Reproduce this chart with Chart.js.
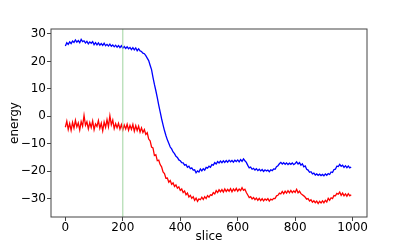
<!DOCTYPE html>
<html>
<head>
<meta charset="utf-8">
<script src="https://cdn.jsdelivr.net/npm/chart.js@4"></script>
<style>
  html, body { margin: 0; padding: 0; background: #fff; }
  #wrap { width: 407px; height: 244px; }
</style>
</head>
<body>
<div id="wrap"><canvas id="chart" width="407" height="244"></canvas></div>
<script>
// one value every 5 slices
const STEP = 5;
const blueEnergy = [
  25.6, 26.8, 26.2, 27.1, 26.5, 27.4, 26.9, 27.8, 27.0, 27.6,
  26.8, 28.0, 27.2, 27.5, 26.7, 27.3, 26.4, 27.1, 26.6, 27.2,
  26.1, 26.8, 26.0, 26.7, 25.9, 26.5, 25.8, 26.6, 25.7, 26.2,
  25.6, 26.3, 25.5, 26.0, 25.3, 25.9, 25.2, 25.8, 25.0, 25.7,
  24.8, 25.4, 24.7, 25.3, 24.6, 25.1, 24.3, 25.0, 24.2, 24.9,
  23.9, 24.6, 23.8, 23.6, 23.0, 22.8, 22.1, 21.2, 20.3, 18.6,
  17.0, 14.2, 11.6, 9.3, 6.8, 4.1, 1.6, -0.9, -3.1, -5.2,
  -7.0, -8.6, -9.8, -11.2, -11.9, -13.0, -13.6, -14.6, -15.0, -15.9,
  -16.2, -16.9, -17.0, -17.8, -17.6, -18.6, -18.2, -19.1, -18.8, -19.6,
  -19.5, -20.6, -19.9, -20.3, -19.2, -19.9, -19.1, -19.6, -18.6, -18.9,
  -18.2, -18.6, -17.6, -17.8, -16.9, -17.4, -16.5, -17.0, -16.3, -16.9,
  -16.2, -16.8, -16.1, -16.7, -16.0, -16.6, -16.1, -16.7, -16.0, -16.5,
  -15.9, -16.6, -15.8, -16.4, -15.5, -16.2, -16.8, -17.9, -18.8, -18.5,
  -19.3, -19.0, -19.6, -19.1, -19.8, -19.3, -19.9, -19.4, -20.1, -19.5,
  -19.9, -19.6, -20.2, -19.5, -19.8, -19.2, -19.3, -18.4, -18.0, -17.3,
  -16.8, -17.4, -16.9, -17.5, -17.0, -17.6, -17.1, -17.5, -17.0, -17.6,
  -17.2, -16.6, -17.4, -16.9, -17.8, -17.3, -18.4, -18.1, -19.3, -19.6,
  -20.4, -20.2, -21.0, -20.7, -21.4, -21.0, -21.5, -21.1, -21.6, -21.2,
  -21.7, -21.0, -21.5, -20.9, -21.2, -20.3, -20.5, -19.4, -19.3, -18.2,
  -18.3, -17.5, -18.2, -17.8, -18.6, -18.0, -18.7, -18.1, -18.8, -18.5
];
const redEnergy = [
  -4.0, -1.8, -4.8, -2.6, -5.1, -2.2, -4.3, -1.5, -3.9, -2.4,
  -5.0, -1.9, -3.6, 0.3, -3.3, -2.0, -4.6, -2.3, -4.1, -1.7,
  -4.9, -2.8, -3.7, -1.6, -4.4, -2.5, -5.3, -2.1, -4.0, -1.2,
  -3.8, 0.2, -3.1, -1.4, -4.5, -2.7, -4.2, -2.6, -4.7, -3.0,
  -5.0, -3.2, -4.6, -2.9, -5.1, -3.3, -4.8, -3.0, -5.4, -3.4,
  -5.2, -3.6, -5.8, -4.2, -5.9, -4.8, -6.6, -6.0, -8.3, -8.9,
  -11.2, -11.5, -14.3, -14.0, -16.2, -16.0, -17.6, -18.4, -20.3, -20.9,
  -22.6, -22.5, -24.0, -23.4, -24.8, -24.3, -25.6, -25.0, -26.2, -25.7,
  -27.0, -26.5, -27.8, -27.2, -28.6, -28.0, -29.4, -28.8, -29.9, -29.3,
  -30.6, -29.8, -31.0, -30.1, -30.4, -29.5, -30.3, -29.3, -30.0, -28.9,
  -29.5, -28.6, -28.8, -27.8, -28.3, -27.1, -27.8, -26.8, -27.5, -26.7,
  -27.6, -26.5, -27.4, -26.6, -27.3, -26.4, -27.5, -26.5, -27.2, -26.3,
  -27.3, -26.5, -27.1, -26.0, -27.0, -26.6, -27.8, -28.7, -29.6, -29.3,
  -30.1, -29.6, -30.4, -29.8, -30.6, -29.9, -30.7, -30.0, -30.8, -30.1,
  -30.6, -30.0, -30.9, -30.2, -30.5, -29.9, -30.0, -29.0, -28.8, -28.0,
  -28.3, -27.4, -28.2, -27.3, -28.0, -27.1, -27.9, -27.0, -27.8, -27.2,
  -27.7, -26.6, -27.9, -27.3, -28.2, -28.6, -29.0, -29.5, -30.2, -30.0,
  -30.9, -30.4, -31.3, -30.8, -31.5, -30.9, -31.8, -31.0, -31.6, -30.8,
  -31.5, -30.6, -31.2, -29.9, -30.6, -29.7, -30.0, -28.9, -29.0, -28.1,
  -28.4, -27.6, -28.8, -28.0, -29.0, -28.3, -29.1, -28.2, -29.0, -28.6
];
const markSlice = 200;
const xTicks = [0, 200, 400, 600, 800, 1000];
const yTicks = [-30, -20, -10, 0, 10, 20, 30];
const X_MIN = -50, X_MAX = 1050;
const Y_MIN = -36.7, Y_MAX = 31.8;

function toPoints(values) {
  return values.map((v, i) => ({ x: i * STEP, y: v }));
}
function fmt(v) {
  return v < 0 ? '\u2212' + Math.abs(v) : String(v);
}

// matplotlib style box round the plot area
const frame = {
  id: 'frame',
  afterDatasetsDraw(chart) {
    const { ctx, chartArea: a } = chart;
    ctx.save();
    ctx.strokeStyle = '#444';
    ctx.lineWidth = 1;
    ctx.strokeRect(a.left, a.top, a.right - a.left, a.bottom - a.top);
    ctx.restore();
  }
};

Chart.defaults.font.family = 'DejaVu Sans';
Chart.defaults.font.size = 12;
Chart.defaults.color = '#000';

new Chart(document.getElementById('chart'), {
  type: 'line',
  data: {
    datasets: [
      { data: [{ x: markSlice, y: Y_MIN }, { x: markSlice, y: Y_MAX }], borderColor: '#9fd49f', borderWidth: 1 },
      { data: toPoints(blueEnergy), borderColor: '#0000ff', borderWidth: 1.3 },
      { data: toPoints(redEnergy), borderColor: '#ff0000', borderWidth: 1.3 }
    ]
  },
  options: {
    responsive: false,
    animation: false,
    events: [],
    elements: { point: { radius: 0 }, line: { tension: 0 } },
    layout: { padding: { left: 0, right: 40, top: 29, bottom: 0 } },
    plugins: { legend: { display: false }, tooltip: { enabled: false } },
    scales: {
      x: {
        type: 'linear', min: X_MIN, max: X_MAX,
        afterBuildTicks: axis => { axis.ticks = xTicks.map(v => ({ value: v })); },
        afterFit: axis => { axis.height = 27; },
        grid: { drawOnChartArea: false, tickLength: 4, color: '#444' },
        border: { display: false },
        ticks: { padding: 0, maxRotation: 0, callback: fmt },
        title: { display: true, text: 'slice', padding: { top: 0, bottom: 0 } }
      },
      y: {
        min: Y_MIN, max: Y_MAX,
        afterBuildTicks: axis => { axis.ticks = yTicks.map(v => ({ value: v })); },
        afterFit: axis => { axis.width = 51; },
        grid: { drawOnChartArea: false, tickLength: 4, color: '#444' },
        border: { display: false },
        ticks: { padding: 1, callback: fmt },
        title: { display: true, text: 'energy', padding: { top: 8, bottom: 0 } }
      }
    }
  },
  plugins: [frame]
});
</script>
</body>
</html>
